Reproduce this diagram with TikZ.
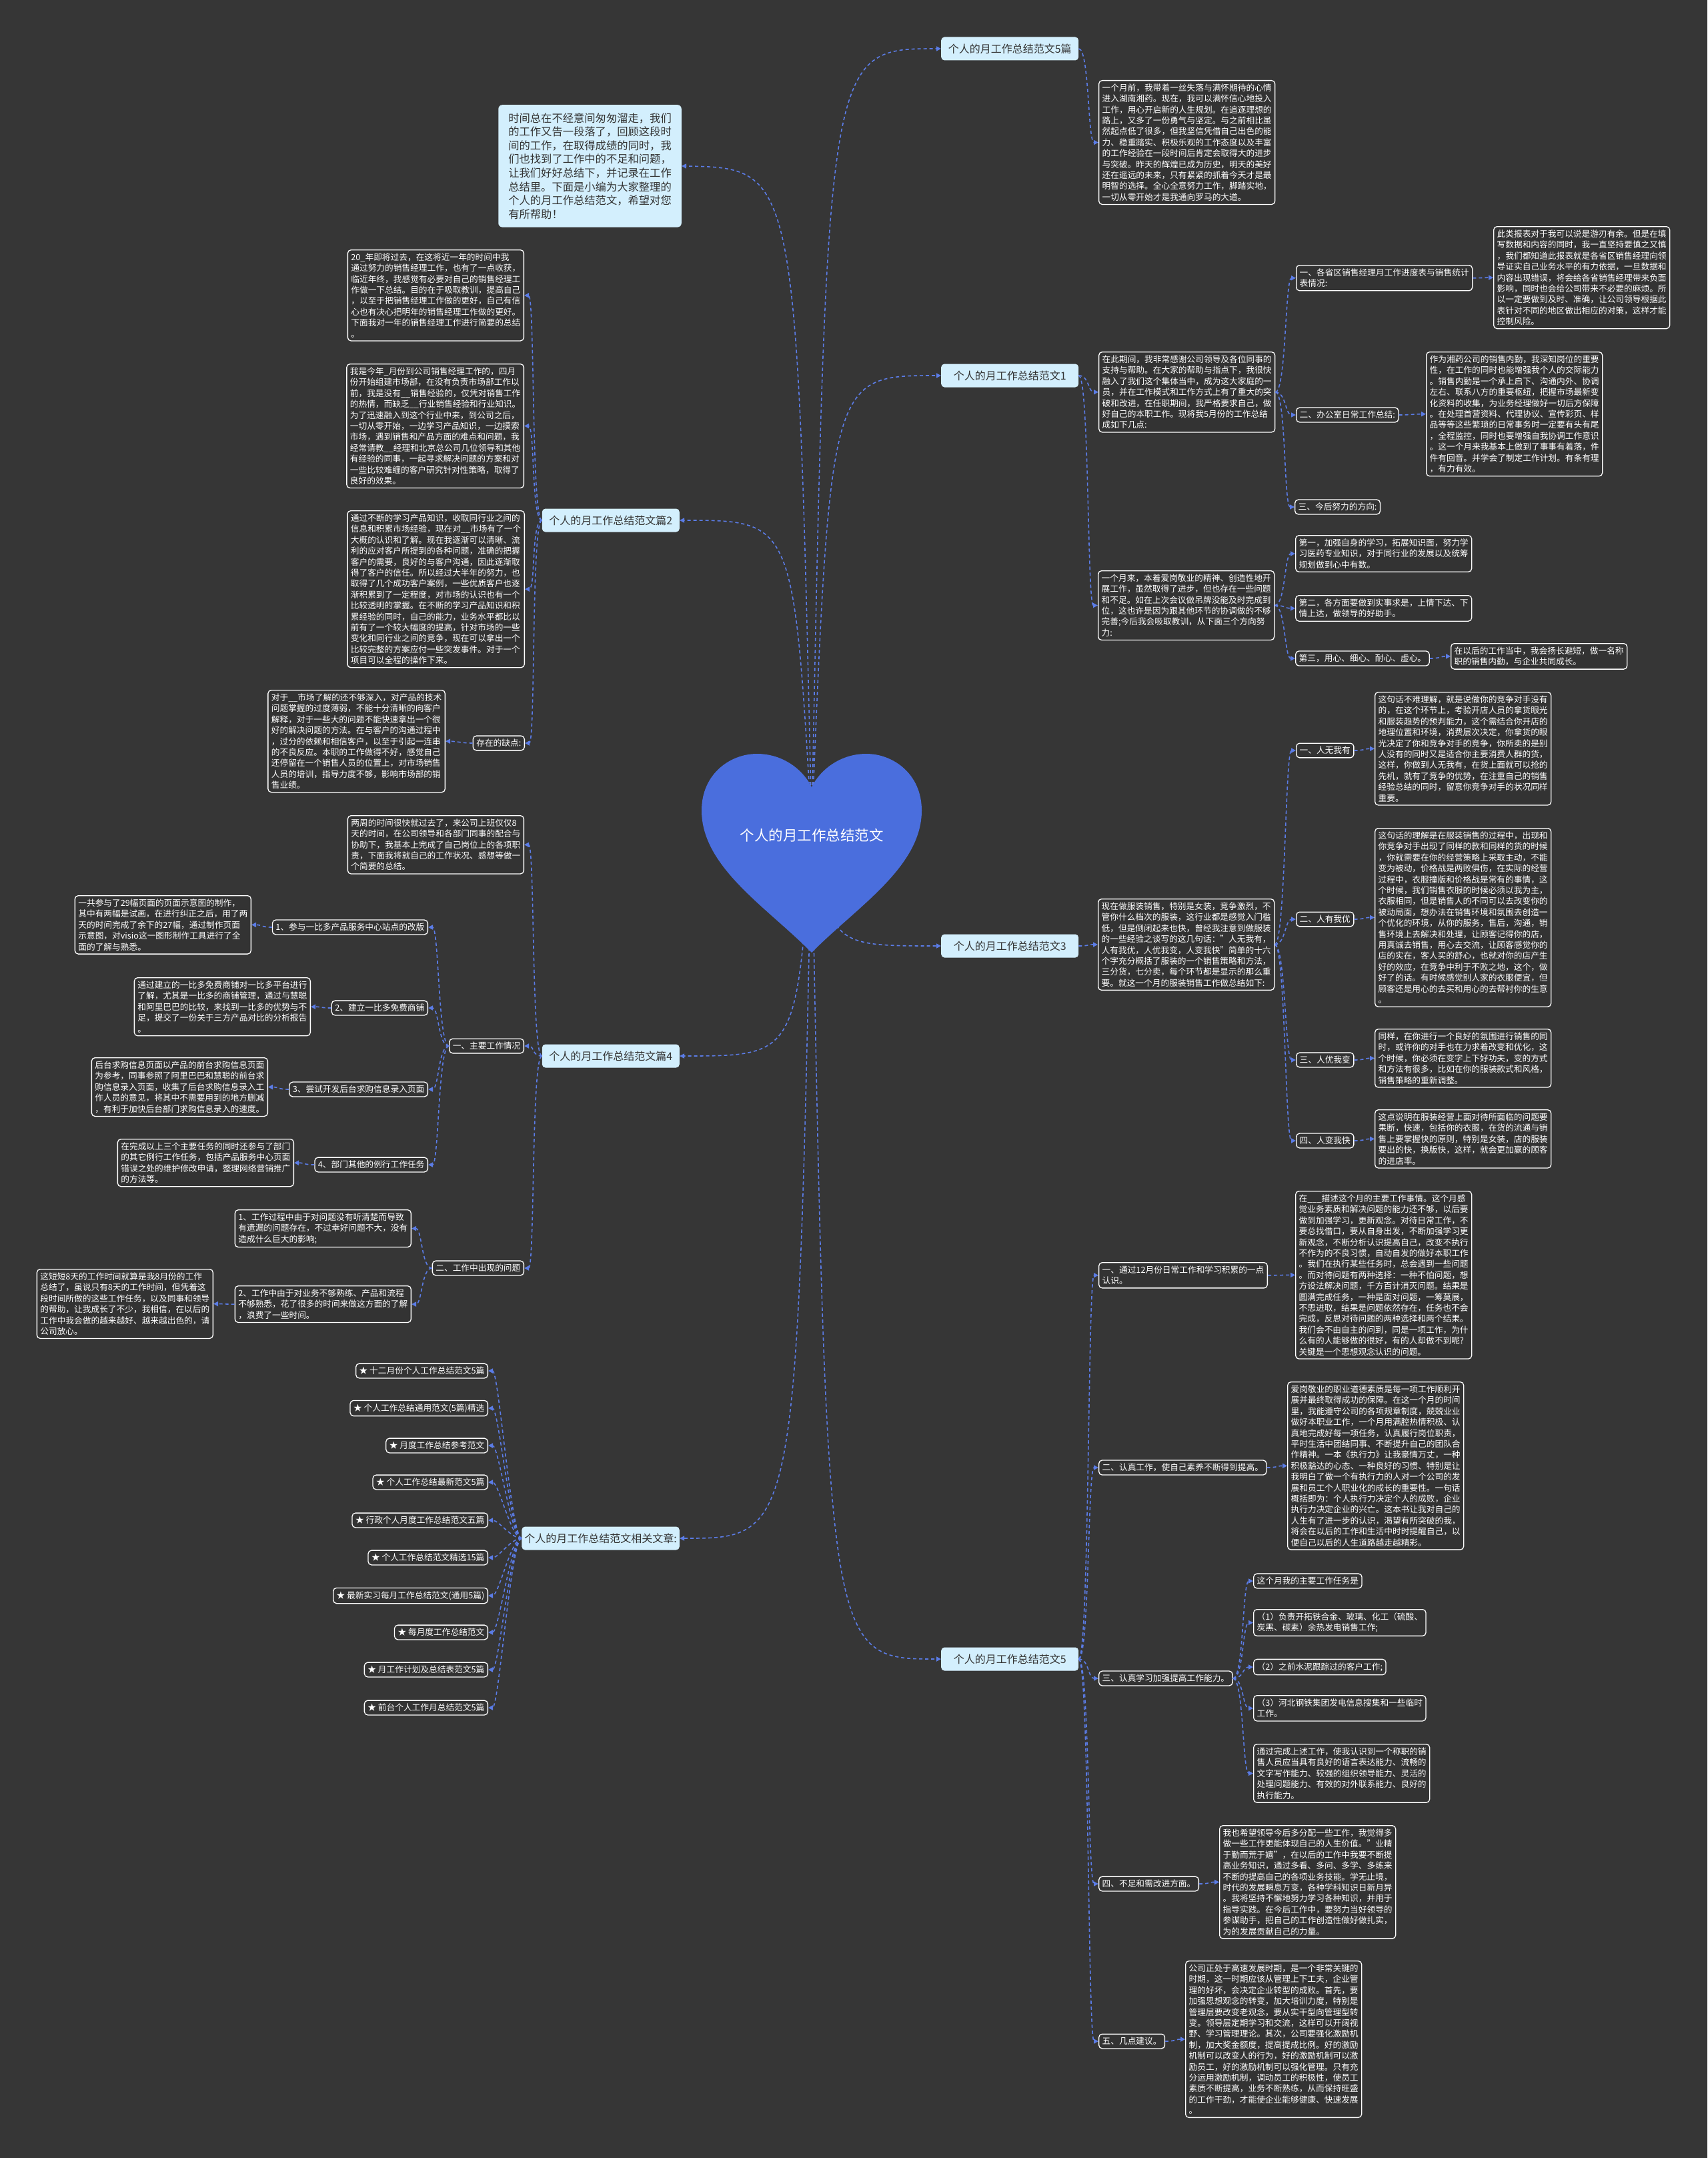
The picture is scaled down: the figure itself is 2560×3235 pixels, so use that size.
\documentclass[tikz,border=0pt]{standalone}
\usepackage{fontspec}
\setmainfont{Noto Sans CJK SC}
\usetikzlibrary{arrows.meta}
\definecolor{bg}{HTML}{363636}
\definecolor{boxbg}{HTML}{333333}
\definecolor{linkb}{HTML}{5B7CE6}
\definecolor{heartb}{HTML}{4A6EDD}
\definecolor{lightb}{HTML}{D3EFFD}
\definecolor{darktext}{HTML}{333333}
\tikzset{
 tb/.style={draw=white, line width=1.3pt, rounded corners=5pt, fill=boxbg, text=white, align=left, inner xsep=5pt, inner ysep=5pt, font=\fontsize{12.7}{16.4}\selectfont},
 mainbox/.style={fill=lightb, text=darktext, rounded corners=5pt, font=\fontsize{16}{20}\selectfont, minimum width=206pt, minimum height=35pt, inner sep=4pt},
 conn/.style={draw=linkb, line width=1.6pt, dash pattern=on 5pt off 4pt, -{Triangle[length=7pt,width=7pt]}}
}
\newcommand\linkR[2]{\draw[conn] (#1.east) .. controls +(16,0) and +(-16,0) .. (#2.west);}
\newcommand\linkL[2]{\draw[conn] (#1.west) .. controls +(-16,0) and +(16,0) .. (#2.east);}
\begin{document}
\begin{tikzpicture}[x=1pt,y=-1pt]
\useasboundingbox (0,0) rectangle (2560,3235);
\fill[bg] (0,0) rectangle (2560,3235);

% ---------- main nodes ----------
\node[mainbox, anchor=west] (m5p) at (1411,73) {个人的月工作总结范文5篇};
\node[mainbox, anchor=west] (m1) at (1411,563) {个人的月工作总结范文1};
\node[mainbox, anchor=west] (m3) at (1411,1418) {个人的月工作总结范文3};
\node[mainbox, anchor=west] (m5) at (1411,2487) {个人的月工作总结范文5};
\node[mainbox, anchor=east] (m2) at (1019,780) {个人的月工作总结范文篇2};
\node[mainbox, anchor=east] (m4) at (1019,1583) {个人的月工作总结范文篇4};
\node[mainbox, anchor=east] (mr) at (1019,2306) {个人的月工作总结范文相关文章:};
\node[fill=lightb, text=darktext, rounded corners=6pt, align=left, inner xsep=15pt, inner ysep=12pt, font=\fontsize{16.3}{20.6}\selectfont, anchor=north east] (intro) at (1022,157) {时间总在不经意间匆匆溜走，我们\\的工作又告一段落了，回顾这段时\\间的工作，在取得成绩的同时，我\\们也找到了工作中的不足和问题，\\让我们好好总结下，并记录在工作\\总结里。下面是小编为大家整理的\\个人的月工作总结范文，希望对您\\有所帮助！};

% ---------- root connectors (under heart) ----------
\coordinate (rt) at (1217,1240);
\draw[conn] (rt) .. controls (1240,73) .. (m5p.west);
\draw[conn] (rt) .. controls (1245,563) .. (m1.west);
\draw[conn] (rt) .. controls (1245,1418) .. (m3.west);
\draw[conn] (rt) .. controls (1240,2487) .. (m5.west);
\draw[conn] (rt) .. controls (1195,252) .. (intro.east);
\draw[conn] (rt) .. controls (1190,780) .. (m2.east);
\draw[conn] (rt) .. controls (1195,1583) .. (m4.east);
\draw[conn] (rt) .. controls (1195,2306) .. (mr.east);

% ---------- heart ----------
\fill[heartb] (1217,1428) .. controls (1150,1360) and (1052,1300) .. (1052,1215) .. controls (1052,1160) and (1095,1130) .. (1135,1130) .. controls (1175,1130) and (1205,1155) .. (1217,1180) .. controls (1229,1155) and (1259,1130) .. (1299,1130) .. controls (1339,1130) and (1382,1160) .. (1382,1215) .. controls (1382,1300) and (1284,1360) .. (1217,1428) -- cycle;
\node[text=white, font=\fontsize{21.5}{26}\selectfont] (root) at (1217,1252) {个人的月工作总结范文};

% ---------- 5篇 ----------
\node[tb, anchor=north west] (b5pt) at (1647,120) {一个月前，我带着一丝失落与满怀期待的心情\\进入湖南湘药。现在，我可以满怀信心地投入\\工作，用心开启新的人生规划。在追逐理想的\\路上，又多了一份勇气与坚定。与之前相比虽\\然起点低了很多，但我坚信凭借自己出色的能\\力、稳重踏实、积极乐观的工作态度以及丰富\\的工作经验在一段时间后肯定会取得大的进步\\与突破。昨天的辉煌已成为历史，明天的美好\\还在遥远的未来，只有紧紧的抓着今天才是最\\明智的选择。全心全意努力工作，脚踏实地，\\一切从零开始才是我通向罗马的大道。};
\linkR{m5p}{b5pt}

% ---------- 范文1 ----------
\node[tb, anchor=north west] (b1a) at (1647,527) {在此期间，我非常感谢公司领导及各位同事的\\支持与帮助。在大家的帮助与指点下，我很快\\融入了我们这个集体当中，成为这大家庭的一\\员，并在工作模式和工作方式上有了重大的突\\破和改进，在任职期间，我严格要求自己，做\\好自己的本职工作。现将我5月份的工作总结\\成如下几点:};
\node[tb, anchor=north west] (b1a1) at (1943,397) {一、各省区销售经理月工作进度表与销售统计\\表情况:};
\node[tb, anchor=north west] (b1a1t) at (2239,339) {此类报表对于我可以说是游刃有余。但是在填\\写数据和内容的同时，我一直坚持要慎之又慎\\，我们都知道此报表就是各省区销售经理向领\\导证实自己业务水平的有力依据，一旦数据和\\内容出现错误，将会给各省销售经理带来负面\\影响，同时也会给公司带来不必要的麻烦。所\\以一定要做到及时、准确，让公司领导根据此\\表针对不同的地区做出相应的对策，这样才能\\控制风险。};
\node[tb, anchor=west] (b1a2) at (1943,622) {二、办公室日常工作总结:};
\node[tb, anchor=north west] (b1a2t) at (2138,527) {作为湘药公司的销售内勤，我深知岗位的重要\\性，在工作的同时也能增强我个人的交际能力\\。销售内勤是一个承上启下、沟通内外、协调\\左右、联系八方的重要枢纽，把握市场最新变\\化资料的收集，为业务经理做好一切后方保障\\。在处理首营资料、代理协议、宣传彩页、样\\品等等这些繁琐的日常事务时一定要有头有尾\\，全程监控，同时也要增强自我协调工作意识\\。这一个月来我基本上做到了事事有着落，件\\件有回音。并学会了制定工作计划。有条有理\\，有力有效。};
\node[tb, anchor=west] (b1a3) at (1941,760) {三、今后努力的方向:};
\node[tb, anchor=north west] (b1b) at (1646,855) {一个月来，本着爱岗敬业的精神、创造性地开\\展工作，虽然取得了进步，但也存在一些问题\\和不足。如在上次会议做吊牌没能及时完成到\\位，这也许是因为跟其他环节的协调做的不够\\完善;今后我会吸取教训，从下面三个方向努\\力:};
\node[tb, anchor=north west] (b1b1) at (1942,802) {第一，加强自身的学习，拓展知识面，努力学\\习医药专业知识，对于同行业的发展以及统筹\\规划做到心中有数。};
\node[tb, anchor=north west] (b1b2) at (1942,892) {第二，各方面要做到实事求是，上情下达、下\\情上达，做领导的好助手。};
\node[tb, anchor=west] (b1b3) at (1942,987) {第三，用心、细心、耐心、虚心。};
\node[tb, anchor=north west] (b1b3t) at (2175,964) {在以后的工作当中，我会扬长避短，做一名称\\职的销售内勤，与企业共同成长。};
\linkR{m1}{b1a}\linkR{m1}{b1b}
\linkR{b1a}{b1a1}\linkR{b1a}{b1a2}\linkR{b1a}{b1a3}
\linkR{b1a1}{b1a1t}\linkR{b1a2}{b1a2t}
\linkR{b1b}{b1b1}\linkR{b1b}{b1b2}\linkR{b1b}{b1b3}
\linkR{b1b3}{b1b3t}

% ---------- 范文3 ----------
\node[tb, anchor=north west] (b3) at (1646,1347) {现在做服装销售，特别是女装，竞争激烈，不\\管你什么档次的服装，这行业都是感觉入门槛\\低，但是倒闭起来也快，曾经我注意到做服装\\的一些经验之谈写的这几句话："人无我有，\\人有我优，人优我变，人变我快"简单的十六\\个字充分概括了服装的一个销售策略和方法，\\三分货，七分卖，每个环节都是显示的那么重\\要。就这一个月的服装销售工作做总结如下:};
\node[tb, anchor=west] (b3n1) at (1943,1125) {一、人无我有};
\node[tb, anchor=north west] (b3t1) at (2061,1037) {这句话不难理解，就是说做你的竞争对手没有\\的，在这个环节上，考验开店人员的拿货眼光\\和服装趋势的预判能力，这个需结合你开店的\\地理位置和环境，消费层次决定，你拿货的眼\\光决定了你和竞争对手的竞争，你所卖的是别\\人没有的同时又是适合你主要消费人群的货，\\这样，你做到人无我有，在货上面就可以抢的\\先机，就有了竞争的优势，在注重自己的销售\\经验总结的同时，留意你竞争对手的状况同样\\重要。};
\node[tb, anchor=west] (b3n2) at (1943,1378) {二、人有我优};
\node[tb, anchor=north west] (b3t2) at (2061,1241) {这句话的理解是在服装销售的过程中，出现和\\你竞争对手出现了同样的款和同样的货的时候\\，你就需要在你的经营策略上采取主动，不能\\变为被动，价格战是两败俱伤，在实际的经营\\过程中，衣服撞版和价格战是常有的事情，这\\个时候，我们销售衣服的时候必须以我为主，\\衣服相同，但是销售人的不同可以去改变你的\\被动局面，想办法在销售环境和氛围去创造一\\个优化的环境，从你的服务，售后，沟通，销\\售环境上去解决和处理，让顾客记得你的店，\\用真诚去销售，用心去交流，让顾客感觉你的\\店的实在，客人买的舒心，也就对你的店产生\\好的效应，在竞争中利于不败之地，这个，做\\好了的话。有时候感觉别人家的衣服便宜，但\\顾客还是用心的去买和用心的去帮衬你的生意\\。};
\node[tb, anchor=west] (b3n3) at (1943,1589) {三、人优我变};
\node[tb, anchor=north west] (b3t3) at (2061,1542) {同样，在你进行一个良好的氛围进行销售的同\\时，或许你的对手也在力求着改变和优化，这\\个时候，你必须在变字上下好功夫，变的方式\\和方法有很多，比如在你的服装款式和风格，\\销售策略的重新调整。};
\node[tb, anchor=west] (b3n4) at (1943,1710) {四、人变我快};
\node[tb, anchor=north west] (b3t4) at (2061,1663) {这点说明在服装经营上面对待所面临的问题要\\果断，快速，包括你的衣服，在货的流通与销\\售上要掌握快的原则，特别是女装，店的服装\\要出的快，换版快，这样，就会更加赢的顾客\\的进店率。};
\linkR{m3}{b3}
\linkR{b3}{b3n1}\linkR{b3}{b3n2}\linkR{b3}{b3n3}\linkR{b3}{b3n4}
\linkR{b3n1}{b3t1}\linkR{b3n2}{b3t2}\linkR{b3n3}{b3t3}\linkR{b3n4}{b3t4}

% ---------- 篇2 ----------
\node[tb, anchor=north east] (b2t1) at (786,374) {20\_年即将过去，在这将近一年的时间中我\\通过努力的销售经理工作，也有了一点收获，\\临近年终，我感觉有必要对自己的销售经理工\\作做一下总结。目的在于吸取教训，提高自己\\，以至于把销售经理工作做的更好，自己有信\\心也有决心把明年的销售经理工作做的更好。\\下面我对一年的销售经理工作进行简要的总结\\。};
\node[tb, anchor=north east] (b2t2) at (786,545) {我是今年\_月份到公司销售经理工作的，四月\\份开始组建市场部，在没有负责市场部工作以\\前，我是没有\_\_销售经验的，仅凭对销售工作\\的热情，而缺乏\_\_行业销售经验和行业知识。\\为了迅速融入到这个行业中来，到公司之后，\\一切从零开始，一边学习产品知识，一边摸索\\市场，遇到销售和产品方面的难点和问题，我\\经常请教\_\_经理和北京总公司几位领导和其他\\有经验的同事，一起寻求解决问题的方案和对\\一些比较难缠的客户研究针对性策略，取得了\\良好的效果。};
\node[tb, anchor=north east] (b2t3) at (787,765) {通过不断的学习产品知识，收取同行业之间的\\信息和积累市场经验，现在对\_\_市场有了一个\\大概的认识和了解。现在我逐渐可以清晰、流\\利的应对客户所提到的各种问题，准确的把握\\客户的需要，良好的与客户沟通，因此逐渐取\\得了客户的信任。所以经过大半年的努力，也\\取得了几个成功客户案例，一些优质客户也逐\\渐积累到了一定程度，对市场的认识也有一个\\比较透明的掌握。在不断的学习产品知识和积\\累经验的同时，自己的能力，业务水平都比以\\前有了一个较大幅度的提高，针对市场的一些\\变化和同行业之间的竞争，现在可以拿出一个\\比较完整的方案应付一些突发事件。对于一个\\项目可以全程的操作下来。};
\node[tb, anchor=east] (b2def) at (787,1114) {存在的缺点:};
\node[tb, anchor=north east] (b2t4) at (668,1034) {对于\_\_市场了解的还不够深入，对产品的技术\\问题掌握的过度薄弱，不能十分清晰的向客户\\解释，对于一些大的问题不能快速拿出一个很\\好的解决问题的方法。在与客户的沟通过程中\\，过分的依赖和相信客户，以至于引起一连串\\的不良反应。本职的工作做得不好，感觉自己\\还停留在一个销售人员的位置上，对市场销售\\人员的培训，指导力度不够，影响市场部的销\\售业绩。};
\linkL{m2}{b2t1}\linkL{m2}{b2t2}\linkL{m2}{b2t3}\linkL{m2}{b2def}
\linkL{b2def}{b2t4}

% ---------- 篇4 ----------
\node[tb, anchor=north east] (b4t0) at (786,1222) {两周的时间很快就过去了，来公司上班仅仅8\\天的时间，在公司领导和各部门同事的配合与\\协助下，我基本上完成了自己岗位上的各项职\\责，下面我将就自己的工作状况、感想等做一\\个简要的总结。};
\node[tb, anchor=east] (b4a) at (786,1568) {一、主要工作情况};
\node[tb, anchor=east] (b4a1) at (642,1390) {1、参与一比多产品服务中心站点的改版};
\node[tb, anchor=north east] (b4a1t) at (377,1342) {一共参与了29幅页面的页面示意图的制作，\\其中有两幅是试画，在进行纠正之后，用了两\\天的时间完成了余下的27幅，通过制作页面\\示意图，对visio这一图形制作工具进行了全\\面的了解与熟悉。};
\node[tb, anchor=east] (b4a2) at (642,1511) {2、建立一比多免费商铺};
\node[tb, anchor=north east] (b4a2t) at (466,1465) {通过建立的一比多免费商铺对一比多平台进行\\了解，尤其是一比多的商铺管理，通过与慧聪\\和阿里巴巴的比较，来找到一比多的优势与不\\足，提交了一份关于三方产品对比的分析报告\\。};
\node[tb, anchor=east] (b4a3) at (642,1633) {3、尝试开发后台求购信息录入页面};
\node[tb, anchor=north east] (b4a3t) at (402,1585) {后台求购信息页面以产品的前台求购信息页面\\为参考，同事参照了阿里巴巴和慧聪的前台求\\购信息录入页面，收集了后台求购信息录入工\\作人员的意见，将其中不需要用到的地方删减\\，有利于加快后台部门求购信息录入的速度。};
\node[tb, anchor=east] (b4a4) at (642,1746) {4、部门其他的例行工作任务};
\node[tb, anchor=north east] (b4a4t) at (441,1707) {在完成以上三个主要任务的同时还参与了部门\\的其它例行工作任务，包括产品服务中心页面\\错误之处的维护修改申请，整理网络营销推广\\的方法等。};
\node[tb, anchor=east] (b4b) at (786,1901) {二、工作中出现的问题};
\node[tb, anchor=north east] (b4b1) at (617,1813) {1、工作过程中由于对问题没有听清楚而导致\\有遗漏的问题存在，不过幸好问题不大，没有\\造成什么巨大的影响;};
\node[tb, anchor=north east] (b4b2) at (617,1927) {2、工作中由于对业务不够熟练、产品和流程\\不够熟悉，花了很多的时间来做这方面的了解\\，浪费了一些时间。};
\node[tb, anchor=north east] (b4b2t) at (320,1902) {这短短8天的工作时间就算是我8月份的工作\\总结了，虽说只有8天的工作时间，但凭着这\\段时间所做的这些工作任务，以及同事和领导\\的帮助，让我成长了不少，我相信，在以后的\\工作中我会做的越来越好、越来越出色的，请\\公司放心。};
\linkL{m4}{b4t0}\linkL{m4}{b4a}\linkL{m4}{b4b}
\linkL{b4a}{b4a1}\linkL{b4a}{b4a2}\linkL{b4a}{b4a3}\linkL{b4a}{b4a4}
\linkL{b4a1}{b4a1t}\linkL{b4a2}{b4a2t}\linkL{b4a3}{b4a3t}\linkL{b4a4}{b4a4t}
\linkL{b4b}{b4b1}\linkL{b4b}{b4b2}\linkL{b4b2}{b4b2t}

% ---------- related ----------
\node[tb, anchor=east] (r1) at (732,2055) {★ 十二月份个人工作总结范文5篇};
\node[tb, anchor=east] (r2) at (732,2111) {★ 个人工作总结通用范文(5篇)精选};
\node[tb, anchor=east] (r3) at (732,2167) {★ 月度工作总结参考范文};
\node[tb, anchor=east] (r4) at (732,2222) {★ 个人工作总结最新范文5篇};
\node[tb, anchor=east] (r5) at (732,2279) {★ 行政个人月度工作总结范文五篇};
\node[tb, anchor=east] (r6) at (732,2335) {★ 个人工作总结范文精选15篇};
\node[tb, anchor=east] (r7) at (732,2392) {★ 最新实习每月工作总结范文(通用5篇)};
\node[tb, anchor=east] (r8) at (732,2447) {★ 每月度工作总结范文};
\node[tb, anchor=east] (r9) at (732,2503) {★ 月工作计划及总结表范文5篇};
\node[tb, anchor=east] (r10) at (732,2560) {★ 前台个人工作月总结范文5篇};
\foreach \r in {r1,r2,r3,r4,r5,r6,r7,r8,r9,r10}{\linkL{mr}{\r}}

% ---------- 范文5 ----------
\node[tb, anchor=north west] (b5n1) at (1647,1892) {一、通过12月份日常工作和学习积累的一点\\认识。};
\node[tb, anchor=north west] (b5t1) at (1942,1785) {在\_\_\_描述这个月的主要工作事情。这个月感\\觉业务素质和解决问题的能力还不够，以后要\\做到加强学习，更新观念。对待日常工作，不\\要总找借口，要从自身出发，不断加强学习更\\新观念，不断分析认识提高自己，改变不执行\\不作为的不良习惯，自动自发的做好本职工作\\。我们在执行某些任务时，总会遇到一些问题\\。而对待问题有两种选择：一种不怕问题，想\\方设法解决问题，千方百计消灭问题。结果是\\圆满完成任务，一种是面对问题，一筹莫展，\\不思进取，结果是问题依然存在，任务也不会\\完成，反思对待问题的两种选择和两个结果。\\我们会不由自主的问到，同是一项工作，为什\\么有的人能够做的很好，有的人却做不到呢?\\关键是一个思想观念认识的问题。};
\node[tb, anchor=west] (b5n2) at (1647,2200) {二、认真工作，使自己素养不断得到提高。};
\node[tb, anchor=north west] (b5t2) at (1930,2071) {爱岗敬业的职业道德素质是每一项工作顺利开\\展并最终取得成功的保障。在这一个月的时间\\里，我能遵守公司的各项规章制度，兢兢业业\\做好本职业工作，一个月用满腔热情积极、认\\真地完成好每一项任务，认真履行岗位职责，\\平时生活中团结同事、不断提升自己的团队合\\作精神。一本《执行力》让我豪情万丈，一种\\积极豁达的心态、一种良好的习惯、特别是让\\我明白了做一个有执行力的人对一个公司的发\\展和员工个人职业化的成长的重要性。一句话\\概括即为：个人执行力决定个人的成败，企业\\执行力决定企业的兴亡。这本书让我对自己的\\人生有了进一步的认识，渴望有所突破的我，\\将会在以后的工作和生活中时时提醒自己，以\\便自己以后的人生道路越走越精彩。};
\node[tb, anchor=west] (b5n3) at (1647,2516) {三、认真学习加强提高工作能力。};
\node[tb, anchor=west] (b5c0) at (1879,2370) {这个月我的主要工作任务是};
\node[tb, anchor=north west] (b5c1) at (1879,2412) {（1）负责开拓铁合金、玻璃、化工（硫酸、\\炭黑、碳素）余热发电销售工作;};
\node[tb, anchor=west] (b5c2) at (1879,2499) {（2）之前水泥跟踪过的客户工作;};
\node[tb, anchor=north west] (b5c3) at (1879,2541) {（3）河北钢铁集团发电信息搜集和一些临时\\工作。};
\node[tb, anchor=north west] (b5c4) at (1879,2614) {通过完成上述工作，使我认识到一个称职的销\\售人员应当具有良好的语言表达能力、流畅的\\文字写作能力、较强的组织领导能力、灵活的\\处理问题能力、有效的对外联系能力、良好的\\执行能力。};
\node[tb, anchor=west] (b5n4) at (1647,2824) {四、不足和需改进方面。};
\node[tb, anchor=north west] (b5t4) at (1828,2736) {我也希望领导今后多分配一些工作，我觉得多\\做一些工作更能体现自己的人生价值。"业精\\于勤而荒于嬉"，在以后的工作中我要不断提\\高业务知识，通过多看、多问、多学、多练来\\不断的提高自己的各项业务技能。学无止境，\\时代的发展瞬息万变，各种学科知识日新月异\\。我将坚持不懈地努力学习各种知识，并用于\\指导实践。在今后工作中，要努力当好领导的\\参谋助手，把自己的工作创造性做好做扎实，\\为的发展贡献自己的力量。};
\node[tb, anchor=west] (b5n5) at (1647,3060) {五、几点建议。};
\node[tb, anchor=north west] (b5t5) at (1777,2939) {公司正处于高速发展时期，是一个非常关键的\\时期，这一时期应该从管理上下工夫，企业管\\理的好坏，会决定企业转型的成败。首先，要\\加强思想观念的转变，加大培训力度，特别是\\管理层要改变老观念，要从实干型向管理型转\\变。领导层定期学习和交流，这样可以开阔视\\野、学习管理理论。其次，公司要强化激励机\\制，加大奖金额度，提高提成比例。好的激励\\机制可以改变人的行为，好的激励机制可以激\\励员工，好的激励机制可以强化管理。只有充\\分运用激励机制，调动员工的积极性，使员工\\素质不断提高，业务不断熟练，从而保持旺盛\\的工作干劲，才能使企业能够健康、快速发展\\。};
\linkR{m5}{b5n1}\linkR{m5}{b5n2}\linkR{m5}{b5n3}\linkR{m5}{b5n4}\linkR{m5}{b5n5}
\linkR{b5n1}{b5t1}\linkR{b5n2}{b5t2}
\linkR{b5n3}{b5c0}\linkR{b5n3}{b5c1}\linkR{b5n3}{b5c2}\linkR{b5n3}{b5c3}\linkR{b5n3}{b5c4}
\linkR{b5n4}{b5t4}\linkR{b5n5}{b5t5}
\end{tikzpicture}
\end{document}
